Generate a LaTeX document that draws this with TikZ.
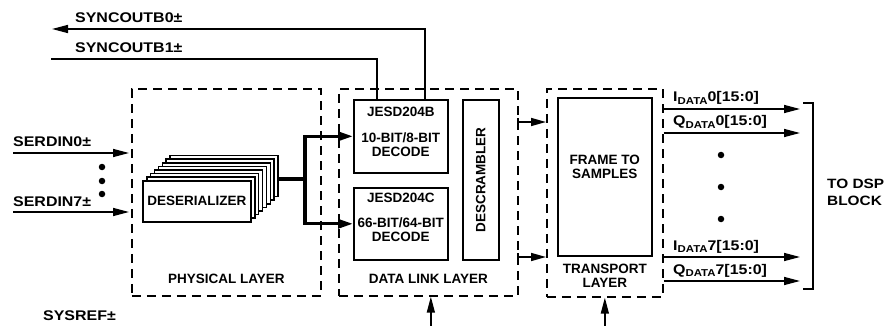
\documentclass[tikz,border=0pt]{standalone}
\usepackage{fontspec}
\setmainfont{Liberation Sans}
\newfontfamily\widefont[FakeStretch=1.14]{Liberation Sans}
\usetikzlibrary{positioning,arrows.meta,calc}
\newcommand{\dsub}[1]{\raisebox{-2.6pt}{\fontsize{10}{10}\selectfont #1}}
\tikzset{
  blk/.style={draw, line width=1.6pt, inner sep=0pt, anchor=north west, fill=white, align=center},
  lyr/.style={draw, line width=1.7pt, dash pattern=on 9pt off 6pt, anchor=north west, inner sep=0pt},
  txt/.style={inner sep=0pt, align=center},
  sgl/.style={inner sep=0pt, anchor=west, font=\fontsize{14}{15}\selectfont\widefont\bfseries},
  sig/.style={line width=1.5pt, -{Triangle[length=16pt,width=8pt]}},
  lnk/.style={line width=1.5pt, {Bar[width=8pt]}-{Triangle[length=15pt,width=8pt]}},
  wire/.style={line width=1.5pt},
  bus/.style={line width=3.2pt},
  dot/.style={circle, fill, inner sep=0pt, minimum size=6.5pt}}

\begin{document}
\begin{tikzpicture}[x=1pt, y=-1pt, font=\fontsize{13.5}{14}\selectfont\bfseries]
\useasboundingbox (0,0) rectangle (886,326);
% layers
\node[lyr, minimum width=189pt, minimum height=207pt] (pl) at (131,88) {};
\node[lyr, minimum width=179pt, minimum height=207pt] (dl) at (338,88) {};
\node[lyr, minimum width=116pt, minimum height=208pt] (tl) at (546,88) {};
\node[txt, above=13pt of pl.south] (plt) {PHYSICAL LAYER};
\node[txt, above=13pt of dl.south] (dlt) {DATA LINK LAYER};
\node[txt, above=10pt of tl.south] (tlt) {TRANSPORT\\LAYER};
% deserializer stack
\foreach \i in {7,...,1}
  \node[blk, minimum width=108pt, minimum height=41pt] (ds\i) at ({142+3.9*\i},{180-3.6*\i}) {};
\node[blk, minimum width=108pt, minimum height=41pt] (ds0) at (142,180) {DESERIALIZER};
% data link blocks
\node[blk, minimum width=94pt, minimum height=73pt] (jb) at (353,99) {};
\node[txt, below=8pt of jb.north] (jbt) {JESD204B\\[12pt]10-BIT/8-BIT\\DECODE};
\node[blk, minimum width=94pt, minimum height=72pt] (jc) at (353,187) {};
\node[txt, below=6pt of jc.north] (jct) {JESD204C\\[11pt]66-BIT/64-BIT\\DECODE};
\node[blk, minimum width=36pt, minimum height=160pt] (dsc) at (462,99) {};
\node[txt, rotate=90] (dsct) at (dsc.center) {DESCRAMBLER};
% transport block
\node[blk, minimum width=94pt, minimum height=158pt] (fr) at (557,97) {FRAME TO\\SAMPLES\\[6pt]};
% bus to decoders
\coordinate (bj) at (305,179);
\draw[bus] (ds7.east |- bj) -- (bj);
\draw[bus, -{Triangle[length=15pt,width=9pt]}] (bj) |- (jb.west);
\draw[bus, -{Triangle[length=15pt,width=9pt]}] (bj) |- (jc.west);
% serial inputs
\coordinate (si0) at (13,153);
\coordinate (si7) at (13,212);
\draw[sig, shorten >=2pt] (si0) -- (pl.west |- si0);
\draw[sig, shorten >=2pt] (si7) -- (pl.west |- si7);
\node[sgl] (si0t) at (13,142) {SERDIN0±};
\node[sgl] (si7t) at (13,202) {SERDIN7±};
\foreach \y in {167,181,194}
  \node[dot] (sd\y) at (102,\y) {};
% sync outputs
\coordinate (sy0) at (52,29);
\coordinate (sy1) at (51,59);
\draw[sig] ([xshift=24pt]jb.north) |- (sy0);
\draw[wire] ([xshift=-24pt]jb.north) |- (sy1);
\node[sgl] (sy0t) at (75,18) {SYNCOUTB0±};
\node[sgl] (sy1t) at (75,48) {SYNCOUTB1±};
% data link to transport
\coordinate (k1) at (517,122);
\coordinate (k2) at (517,257);
\draw[lnk] (k1) -- (tl.west |- k1);
\draw[lnk] (k2) -- (tl.west |- k2);
% sample outputs
\foreach \y/\n in {109/a,133/b,257/c,281/d} {
  \coordinate (o\n) at (800,\y);
  \draw[sig] (tl.east |- o\n) -- (o\n);
}
\node[sgl, anchor=base west] (la) at (673,102) {I\dsub{DATA}0[15:0]};
\node[sgl, anchor=base west] (lb) at (673,126) {Q\dsub{DATA}0[15:0]};
\node[sgl, anchor=base west] (lc) at (673,250) {I\dsub{DATA}7[15:0]};
\node[sgl, anchor=base west] (ld) at (673,274) {Q\dsub{DATA}7[15:0]};
\foreach \y in {155,187,219}
  \node[dot] (od\y) at (721,\y) {};
% dsp bracket
\coordinate (bt) at (803,103);
\coordinate (bb) at (803,289);
\draw[wire] (bt) -- ++(10,0) |- (bb);
\node[sgl, align=left, font=\fontsize{13.5}{17}\selectfont\widefont\bfseries] (dsp) at (827,192) {TO DSP\\BLOCK};
% sysref
\node[sgl] (sr) at (43,316) {SYSREF±};
\draw[sig] ([xshift=2.5pt, yshift=-31pt]dl.south) -- ([xshift=2.5pt]dl.south);
\draw[sig] ([yshift=-30pt]tl.south) -- (tl.south);
\end{tikzpicture}
\end{document}
